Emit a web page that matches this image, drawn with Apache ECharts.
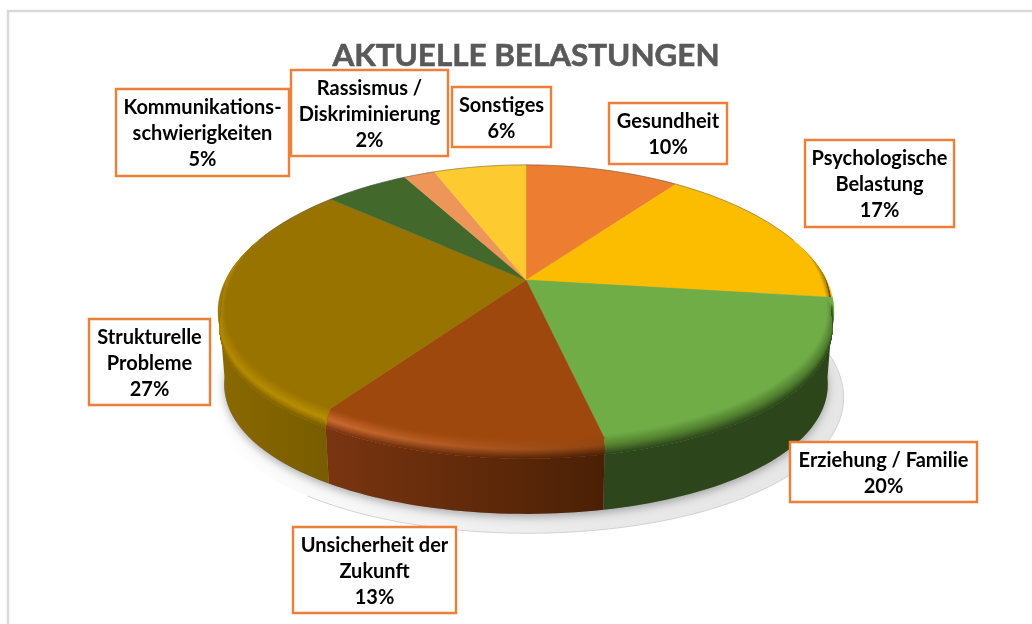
<!DOCTYPE html>
<html><head><meta charset="utf-8">
<style>html,body{margin:0;padding:0;background:#fff}#c{width:1032px;height:624px}</style>
<script src="https://cdn.jsdelivr.net/npm/echarts@6/dist/echarts.min.js"></script>
</head><body><div id="c"></div>
<script>
const titleText = 'AKTUELLE BELASTUNGEN';
const categories = ['Gesundheit','Psychologische\nBelastung','Erziehung / Familie','Unsicherheit der\nZukunft','Strukturelle\nProbleme','Kommunikations-\nschwierigkeiten','Rassismus /\nDiskriminierung','Sonstiges'];
const values = [10,17,19.7,12.5,27.4,5.4,2,6];

const faceColors = ['#ed7d31','#fcbc00','#70ad47','#9e480e','#997300','#43682b','#ee9658','#fdca30'];
const highlightL = ['#ed7d31','#fcbc00','#55842f','#cc6a30','#b38a00','#43682b','#ee9658','#fdca30'];
const highlightR = ['#ed7d31','#7a6408','#4c7a2e','#8f4510','#b89000','#43682b','#ee9658','#fdca30'];
const wallL = ['#ed7d31','#fcbc00','#2d461c','#7a3510','#8a6900','#43682b','#ee9658','#fdca30'];
const wallR = ['#ed7d31','#3a3208','#2c4519','#4a2005','#785c00','#43682b','#ee9658','#fdca30'];
// label boxes: left, top, right, bottom
const labelBoxes = [[609,103,727,164],[805,140,954,227],[790,442,977,502],[293,527,456,613],[89,319,210,405],[116,89,289,176],[291,70,448,156],[452,87,551,147]];

const total = values.reduce((a,b)=>a+b,0);
let running = 0;
const sliceData = values.map((v,i)=>{const s=running;running+=v;return [s/total*360,running/total*360,v,i];});

// perspective disc projection
const CX=526,CY=280,AX=300.4,BY=135,KX=0.22,KY=0.1726;
function pt(deg,r,s,dx,dy){
  const a=deg*Math.PI/180,u=Math.sin(a)*r,v=Math.cos(a)*r;
  return [CX+dx+s*AX*u/(1+KX*v),CY+dy-s*BY*v/(1+KY*v)];
}
function steps(a0,a1){
  const n=Math.max(2,Math.ceil(Math.abs(a1-a0)/1.5)),o=[];
  for(let i=0;i<=n;i++)o.push(a0+(a1-a0)*i/n);
  return o;
}
function arc(a0,a1,r,s,dx,dy){return steps(a0,a1).map(d=>pt(d,r,s,dx,dy));}
function hex(c){return [1,3,5].map(i=>parseInt(c.substr(i,2),16));}
function mix(a,b,t){const x=hex(a),y=hex(b);return '#'+x.map((q,i)=>Math.round(q+(y[i]-q)*t).toString(16).padStart(2,'0')).join('');}
function hGrad(x0,x1,c0,c1){return new echarts.graphic.LinearGradient(x0,0,x1,0,[{offset:0,color:c0},{offset:1,color:c1}],true);}

const WALL_H=74,WALL_S=0.98,BEVEL_H=16,BEVEL_R=0.978,BEVEL_STEPS=14;
const WALL_A0=100,WALL_A1=260,BEVEL_A0=72,BEVEL_A1=288;
const scaleAt=h=>1-(1-WALL_S)*h/WALL_H;
function smooth(e){e=Math.min(1,Math.max(0,e));return e*e*(3-2*e);}
const insetTaper=d=>smooth(Math.min(d-BEVEL_A0,BEVEL_A1-d)/24);
const dropTaper=d=>smooth(Math.min(d-88,272-d)/12);
function bandEdge(a0,a1,inset,drop){
  return steps(a0,a1).map(d=>{
    const h=drop*dropTaper(d);
    return pt(d,1-inset*insetTaper(d),scaleAt(h),0,h);
  });
}

function renderGround(params,api){
  if(params.dataIndex!==0)return null;
  const sh=arc(0,360,1,1.025,2,86);
  const line=arc(72,216,1,1.025,2,86);
  const base=arc(0,360,1,WALL_S,0,WALL_H);
  return {type:'group',children:[
    {type:'polygon',shape:{points:sh},style:{fill:new echarts.graphic.LinearGradient(210,0,850,0,[{offset:0,color:'#ffffff'},{offset:0.25,color:'#f6f6f6'},{offset:0.6,color:'#e9e9e9'},{offset:1,color:'#e6e6e6'}],true)}},
    {type:'polyline',shape:{points:line},style:{stroke:'#c9c9c9',lineWidth:0.8,fill:null}},
    {type:'polygon',shape:{points:base},style:{fill:'#999',shadowBlur:9,shadowColor:'rgba(0,0,0,0.3)',shadowOffsetY:3}}
  ]};
}
function renderWall(params,api){
  const i=params.dataIndex,a0=Math.max(api.value(0),WALL_A0),a1=Math.min(api.value(1),WALL_A1);
  if(a1<=a0)return null;
  const top=arc(a0,a1,1,1,0,0),bot=arc(a1,a0,1,WALL_S,0,WALL_H);
  const xs=top.concat(bot).map(p=>p[0]);
  const x0=Math.min.apply(null,xs),x1=Math.max.apply(null,xs);
  return {type:'polygon',shape:{points:top.concat(bot)},style:{fill:hGrad(x0,x1,wallL[i],wallR[i])}};
}
function renderTop(params,api){
  const i=params.dataIndex,a0=api.value(0),a1=api.value(1);
  const kids=[{type:'polygon',shape:{points:[[CX,CY]].concat(arc(a0,a1,1,1,0,0))},style:{fill:faceColors[i],stroke:faceColors[i],lineWidth:0.4}}];
  const b0=Math.max(a0,BEVEL_A0),b1=Math.min(a1,BEVEL_A1);
  if(b1>b0){
    const probe=arc(b0,b1,1,1,0,0).map(p=>p[0]);
    const x0=Math.min.apply(null,probe),x1=Math.max.apply(null,probe);
    const colorAt=(t,hl,wl)=>t<0.4?mix(faceColors[i],hl,t/0.4):mix(hl,wl,(t-0.4)/0.6);
    const endEdge=bandEdge(b1,b0,0,BEVEL_H);
    for(let k=0;k<BEVEL_STEPS;k++){
      const t0=k/BEVEL_STEPS,tm=(k+0.5)/BEVEL_STEPS;
      const inset=(1-BEVEL_R)*(1-Math.min(1,t0*2.5));
      const pts=bandEdge(b0,b1,inset,BEVEL_H*t0).concat(endEdge);
      kids.push({type:'polygon',shape:{points:pts},style:{fill:hGrad(x0,x1,colorAt(tm,highlightL[i],wallL[i]),colorAt(tm,highlightR[i],wallR[i]))}});
    }
  }
  [[a0,Math.min(a1,BEVEL_A0)],[Math.max(a0,BEVEL_A1),a1]].forEach(function(r){
    if(r[1]>r[0])kids.push({type:'polyline',shape:{points:arc(r[0],r[1],1,1,0,0)},style:{stroke:'rgba(70,70,70,0.55)',lineWidth:0.8,fill:null}});
  });
  return {type:'group',children:kids};
}
function renderLabel(params,api){
  const i=params.dataIndex,b=labelBoxes[i];
  const text=categories[i]+'\n'+Math.round(api.value(2))+'%';
  return {type:'group',children:[
    {type:'rect',shape:{x:b[0],y:b[1],width:b[2]-b[0],height:b[3]-b[1]},style:{fill:'#ffffff',stroke:'#ef7f38',lineWidth:2.4}},
    {type:'text',style:{text:text,x:(b[0]+b[2])/2,y:(b[1]+b[3])/2+1.5,align:'center',verticalAlign:'middle',fontFamily:'Lato',fontWeight:'bold',fontSize:20,lineHeight:26,fill:'#000000'}}
  ]};
}
const common={type:'custom',coordinateSystem:'none',data:sliceData,silent:true,animation:false,clip:false};
const chart=echarts.init(document.getElementById('c'));
chart.setOption({
  animation:false,backgroundColor:'#ffffff',
  title:{text:titleText,left:521,top:35,textAlign:'center',textStyle:{fontFamily:'Lato',fontWeight:'bold',fontSize:31.4,color:'#595959',textBorderColor:'#595959',textBorderWidth:0.6}},
  graphic:[{type:'rect',z:0,shape:{x:8,y:11,width:1200,height:800},style:{fill:'none',stroke:'#d9d9d9',lineWidth:2.5},silent:true}],
  series:[
    Object.assign({},common,{name:'ground',z:1,renderItem:renderGround}),
    Object.assign({},common,{name:'wall',z:2,renderItem:renderWall}),
    Object.assign({},common,{name:'top',z:3,renderItem:renderTop}),
    Object.assign({},common,{name:'labels',z:4,renderItem:renderLabel})
  ]
});
</script></body></html>
